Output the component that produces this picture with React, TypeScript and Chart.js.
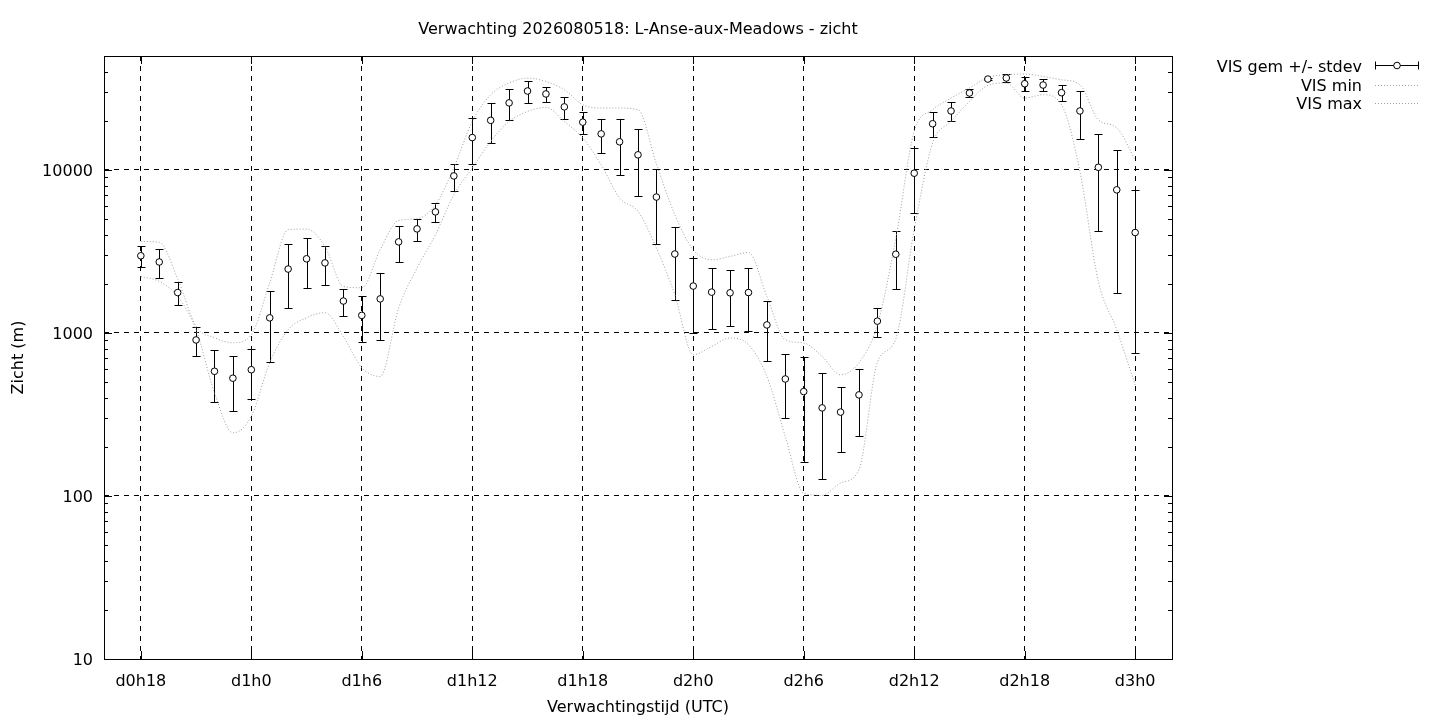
import React, { useEffect, useRef } from "react";
import { Chart, registerables } from "chart.js";

Chart.register(...registerables);

const TITLE = "Verwachting 2026080518: L-Anse-aux-Meadows - zicht";
const X_TITLE = "Verwachtingstijd (UTC)";
const Y_TITLE = "Zicht (m)";
const LEGEND_LABELS = ["VIS gem +/- stdev", "VIS min", "VIS max"];

// forecast hour (hours since d0h0)
const hours = [
  18, 19, 20, 21, 22, 23, 24, 25, 26, 27, 28, 29, 30, 31, 32, 33, 34, 35, 36,
  37, 38, 39, 40, 41, 42, 43, 44, 45, 46, 47, 48, 49, 50, 51, 52, 53, 54, 55,
  56, 57, 58, 59, 60, 61, 62, 63, 64, 65, 66, 67, 68, 69, 70, 71, 72,
];

const visMean = [
  2975, 2725, 1770, 906, 582, 528, 595, 1238, 2467, 2850, 2690, 1570, 1282,
  1618, 3620, 4350, 5530, 9190, 15800, 20150, 25780, 30500, 29250, 24370,
  19640, 16640, 14880, 12380, 6820, 3050, 1940, 1780, 1763, 1770, 1120, 522,
  437, 347, 327, 417, 1182, 3040, 9550, 19200, 23000, 29650, 36100, 36650,
  33800, 33180, 29780, 23000, 10380, 7550, 4130,
];

const visStdev = [
  440, 545, 276, 181, 205, 195, 199, 571, 1045, 964, 723, 292, 406, 718, 903,
  660, 710, 1710, 4970, 5480, 5555, 4690, 3090, 3810, 2915, 3910, 5590, 5450,
  3310, 1446, 941, 722, 665, 738, 449, 221, 276, 220, 141, 184, 233, 1173,
  4090, 3335, 3070, 1675, 500, 2070, 3330, 2710, 3355, 7565, 6175, 5790, 3377,
];

const visMin = [
  2220, 2070, 1675, 1047, 430, 244, 308, 657, 1047, 1240, 1331, 952, 612, 541,
  1422, 2502, 4004, 7046, 10270, 14960, 19840, 22840, 24170, 19840, 15690,
  10760, 6725, 5565, 3319, 1716, 735, 827, 931, 847, 541, 232, 104, 101, 120,
  145, 660, 920, 4300, 14620, 19840, 26310, 32980, 34120, 27610, 28920, 25110,
  9790, 2071, 1047, 480,
];

const visMax = [
  3640, 3600, 2150, 1100, 935, 871, 975, 2033, 4297, 4340, 3395, 1930, 1894,
  3240, 4899, 5019, 6117, 10320, 19840, 28920, 34120, 36610, 34890, 31030,
  25110, 23970, 23970, 23400, 10900, 5312, 3239, 2813, 2947, 3119, 1675, 909,
  868, 718, 554, 657, 1120, 3800, 17230, 23400, 27610, 31800, 36930, 38370,
  38750, 37450, 35750, 33310, 20300, 18130, 11550,
];

const xTickHours = [18, 24, 30, 36, 42, 48, 54, 60, 66, 72];
const yTickValues = [10, 100, 1000, 10000];
const yMinorMantissas = [2, 3, 4, 5, 6, 7, 8, 9];

const FAMILY = "'DejaVu Sans', sans-serif";
const FONT = `16px ${FAMILY}`;
const DOT_COLOR = "#a0a0a0";

function hourLabel(h: number): string {
  return `d${Math.floor(h / 24)}h${h % 24}`;
}

const errorBarPlugin = {
  id: "errorBars",
  beforeDatasetsDraw(chart: any) {
    const { ctx } = chart;
    const x = chart.scales.x;
    const y = chart.scales.y;
    ctx.save();
    ctx.strokeStyle = "#000";
    ctx.lineWidth = 1;
    ctx.beginPath();
    hours.forEach((h, i) => {
      const px = Math.round(x.getPixelForValue(h)) + 0.5;
      const top = Math.round(y.getPixelForValue(visMean[i] + visStdev[i])) + 0.5;
      const bot = Math.round(y.getPixelForValue(visMean[i] - visStdev[i])) + 0.5;
      ctx.moveTo(px, top);
      ctx.lineTo(px, bot);
      ctx.moveTo(px - 4, top);
      ctx.lineTo(px + 4, top);
      ctx.moveTo(px - 4, bot);
      ctx.lineTo(px + 4, bot);
    });
    ctx.stroke();
    ctx.restore();
  },
};

const decorPlugin = {
  id: "decor",
  beforeDraw(chart: any) {
    const { ctx, width, height } = chart;
    ctx.save();
    ctx.fillStyle = "#fff";
    ctx.fillRect(0, 0, width, height);
    ctx.restore();
  },
  afterDraw(chart: any) {
    const { ctx, chartArea: a } = chart;
    const x = chart.scales.x;
    const y = chart.scales.y;
    ctx.save();
    ctx.strokeStyle = "#000";
    ctx.lineWidth = 1;
    ctx.setLineDash([]);
    ctx.strokeRect(a.left + 0.5, a.top + 0.5, a.right - a.left, a.bottom - a.top);

    ctx.beginPath();
    yTickValues.forEach((v) => {
      const py = Math.round(y.getPixelForValue(v)) + 0.5;
      ctx.moveTo(a.left, py);
      ctx.lineTo(a.left + 8, py);
      ctx.moveTo(a.right, py);
      ctx.lineTo(a.right - 8, py);
      yMinorMantissas.forEach((m) => {
        const mv = m * v;
        if (mv >= y.max) return;
        const pm = Math.round(y.getPixelForValue(mv)) + 0.5;
        ctx.moveTo(a.left, pm);
        ctx.lineTo(a.left + 4, pm);
        ctx.moveTo(a.right, pm);
        ctx.lineTo(a.right - 4, pm);
      });
    });
    xTickHours.forEach((h) => {
      const px = Math.round(x.getPixelForValue(h)) + 0.5;
      ctx.moveTo(px, a.bottom);
      ctx.lineTo(px, a.bottom - 8);
      ctx.moveTo(px, a.top);
      ctx.lineTo(px, a.top + 8);
    });
    ctx.stroke();

    // texts
    ctx.fillStyle = "#000";
    ctx.font = FONT;
    ctx.textBaseline = "middle";
    ctx.textAlign = "center";
    const cx = (a.left + a.right) / 2;
    ctx.fillText(TITLE, cx, 30);
    ctx.fillText(X_TITLE, cx, 708);
    ctx.save();
    ctx.translate(19, (a.top + a.bottom) / 2);
    ctx.rotate(-Math.PI / 2);
    ctx.fillText(Y_TITLE, 0, 0);
    ctx.restore();

    // legend
    const rows = [66, 85, 103];
    const textRight = 1362;
    const s0 = 1375;
    const s1 = 1419;
    ctx.textAlign = "right";
    LEGEND_LABELS.forEach((t, i) => ctx.fillText(t, textRight, rows[i] + 2));

    const ly = rows[0] - 0.5;
    ctx.beginPath();
    ctx.moveTo(s0, ly);
    ctx.lineTo(s1, ly);
    ctx.moveTo(s0 + 0.5, ly - 4);
    ctx.lineTo(s0 + 0.5, ly + 4);
    ctx.moveTo(s1 - 0.5, ly - 4);
    ctx.lineTo(s1 - 0.5, ly + 4);
    ctx.stroke();
    ctx.beginPath();
    ctx.arc((s0 + s1) / 2, ly, 3.3, 0, Math.PI * 2);
    ctx.fillStyle = "#fff";
    ctx.fill();
    ctx.stroke();

    ctx.strokeStyle = DOT_COLOR;
    ctx.setLineDash([1, 2]);
    [rows[1], rows[2]].forEach((r) => {
      ctx.beginPath();
      ctx.moveTo(s0, r + 0.5);
      ctx.lineTo(s1, r + 0.5);
      ctx.stroke();
    });
    ctx.restore();
  },
};

export default function App() {
  const canvasRef = useRef<HTMLCanvasElement | null>(null);

  useEffect(() => {
    const canvas = canvasRef.current;
    if (!canvas) return;
    Chart.defaults.font.family = FAMILY;
    Chart.defaults.font.size = 16;
    Chart.defaults.color = "#000";

    const tickFont = { family: FAMILY, size: 16 };
    const chart = new Chart(canvas, {
      type: "line",
      data: {
        datasets: [
          {
            label: LEGEND_LABELS[0],
            data: hours.map((h, i) => ({ x: h, y: visMean[i] })),
            showLine: false,
            pointRadius: 3.3,
            pointBackgroundColor: "#fff",
            pointBorderColor: "#000",
            pointBorderWidth: 1,
            borderColor: "#000",
          },
          {
            label: LEGEND_LABELS[1],
            data: hours.map((h, i) => ({ x: h, y: visMin[i] })),
            borderColor: DOT_COLOR,
            borderWidth: 1,
            borderDash: [1, 2],
            pointRadius: 0,
            cubicInterpolationMode: "monotone",
            fill: false,
          },
          {
            label: LEGEND_LABELS[2],
            data: hours.map((h, i) => ({ x: h, y: visMax[i] })),
            borderColor: DOT_COLOR,
            borderWidth: 1,
            borderDash: [1, 2],
            pointRadius: 0,
            cubicInterpolationMode: "monotone",
            fill: false,
          },
        ],
      },
      options: {
        animation: false,
        responsive: false,
        devicePixelRatio: 1,
        events: [],
        layout: { padding: { left: 0, right: 268, top: 56, bottom: 0 } },
        plugins: {
          legend: { display: false },
          title: { display: false },
          tooltip: { enabled: false },
        },
        scales: {
          x: {
            type: "linear",
            min: 16,
            max: 74,
            afterBuildTicks: (s: any) => {
              s.ticks = xTickHours.map((v) => ({ value: v }));
            },
            afterFit: (s: any) => {
              s.height = 61;
            },
            ticks: {
              callback: (v: any) => hourLabel(Number(v)),
              font: tickFont,
              color: "#000",
              padding: 13,
              maxRotation: 0,
              autoSkip: false,
            },
            grid: { color: "#000", lineWidth: 1, drawTicks: false },
            border: { display: false, dash: [5, 5] },
          },
          y: {
            type: "logarithmic",
            min: 10,
            max: 50000,
            afterBuildTicks: (s: any) => {
              s.ticks = yTickValues.map((v) => ({ value: v, major: true }));
            },
            afterFit: (s: any) => {
              s.width = 104;
            },
            ticks: {
              callback: (v: any) => String(v),
              font: tickFont,
              color: "#000",
              padding: 11,
              labelOffset: 2,
              autoSkip: false,
            },
            grid: { color: "#000", lineWidth: 1, drawTicks: false },
            border: { display: false, dash: [5, 5] },
          },
        },
      },
      plugins: [errorBarPlugin, decorPlugin],
    } as any);

    return () => chart.destroy();
  }, []);

  return (
    <div style={{ position: "absolute", left: 0, top: 0, width: 1440, height: 720 }}>
      <canvas ref={canvasRef} width={1440} height={720} />
    </div>
  );
}
